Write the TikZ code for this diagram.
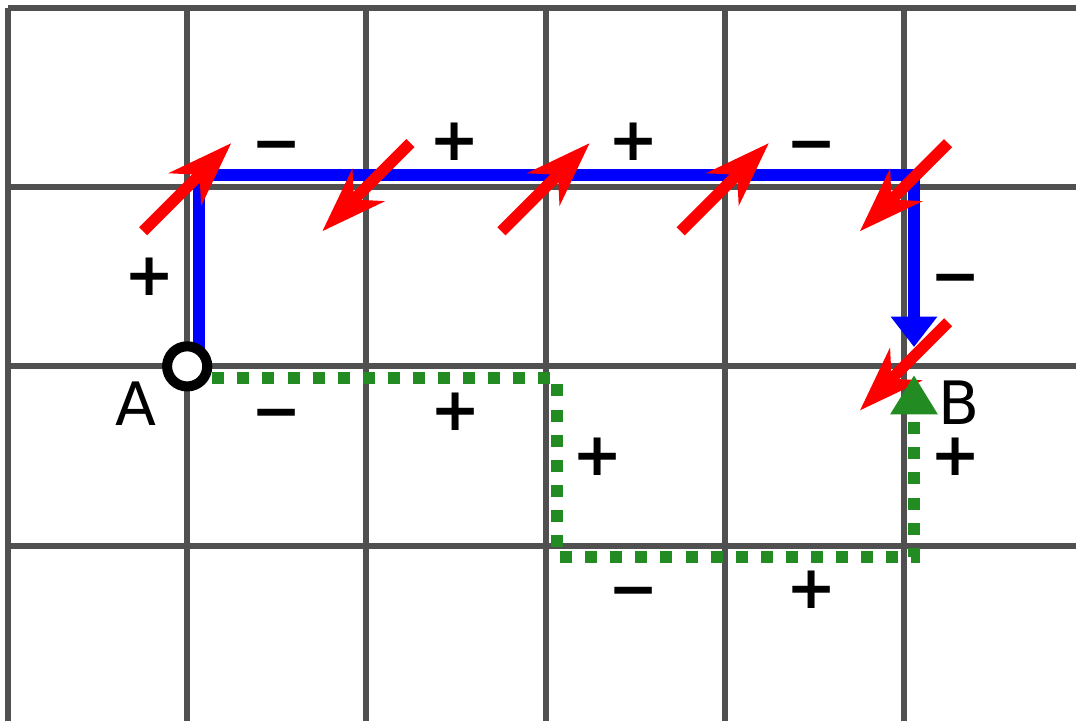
\documentclass[tikz,border=0pt]{standalone}
\usepackage{fontspec}
\setmainfont{DejaVu Sans}
\usetikzlibrary{arrows.meta}
\definecolor{gitterfarve}{HTML}{505050}
\definecolor{vejgroen}{HTML}{228B22}

\begin{document}
\begin{tikzpicture}[
  gitter/.style={line width=0.034cm,color=gitterfarve},
  vejblaa/.style={line width=0.067cm,color=blue,-{Triangle[width=0.25cm,length=0.17cm]}},
  vejgron/.style={line width=0.067cm,color=vejgroen,dash pattern=on 0.067cm off 0.073cm,-{Triangle[width=0.25cm,length=0.22cm]}},
  felt/.style={line width=0.064cm,color=red,-{Stealth[length=0.36cm,width=0.25cm,inset=0.11cm]}},
  fortegn/.style={font=\fontsize{9.5}{11}\selectfont\bfseries,inner sep=0pt},
  navn/.style={font=\fontsize{9.5}{11}\selectfont,inner sep=0pt},
  punkt/.style={circle,draw=black,fill=white,line width=0.056cm,inner sep=0pt,minimum size=0.224cm}
]
\useasboundingbox (-0.0446,0.0212) rectangle (5.96,4.0446);
% tegn gitter
\draw[gitter] (0,-0.5) grid (6.5,4);
% punkter og hjoerner
\coordinate (pA) at (1,2);
\coordinate (b1) at (1.067,3.067);
\coordinate (b2) at (5.056,3.067);
\coordinate (bslut) at (5.056,2.108);
\coordinate (g0) at (1,1.935);
\coordinate (g1) at (3.064,1.935);
\coordinate (g2) at (3.064,0.936);
\coordinate (g3) at (5.056,0.936);
\coordinate (gslut) at (5.056,1.952);
% blaa vej
\draw[vejblaa] (pA -| b1) -- (b1) -- (b2) -- (bslut);
% vektorfelt
\foreach \px/\py/\r in {1/3/45, 2/3/225, 3/3/45, 4/3/45, 5/3/225, 5/2/225}
  \draw[felt] (\px,\py) ++(\r+180:0.348) -- ++(\r:0.696);
% groen vej
\draw[vejgron] (g0) -- (g1) -- (g2) -- (g3) -- (gslut);
\node[punkt] (punktA) at (pA) {};
\node[navn] (navnA) at (0.714,1.79) {A};
\node[navn] (navnB) at (5.307,1.80) {B};
% fortegn
\node[fortegn] (t1) at (1.496,3.196) {−};
\node[fortegn] (t2) at (2.494,3.252) {+};
\node[fortegn] (t3) at (3.493,3.252) {+};
\node[fortegn] (t4) at (4.487,3.196) {−};
\node[fortegn] (v1) at (0.79,2.499) {+};
\node[fortegn] (h1) at (5.29,2.454) {−};
\node[fortegn] (n1) at (1.5,1.701) {−};
\node[fortegn] (n2) at (2.5,1.746) {+};
\node[fortegn] (n3) at (3.292,1.494) {+};
\node[fortegn] (n4) at (5.29,1.494) {+};
\node[fortegn] (n5) at (3.49,0.707) {−};
\node[fortegn] (n6) at (4.487,0.752) {+};
\end{tikzpicture}
\end{document}
